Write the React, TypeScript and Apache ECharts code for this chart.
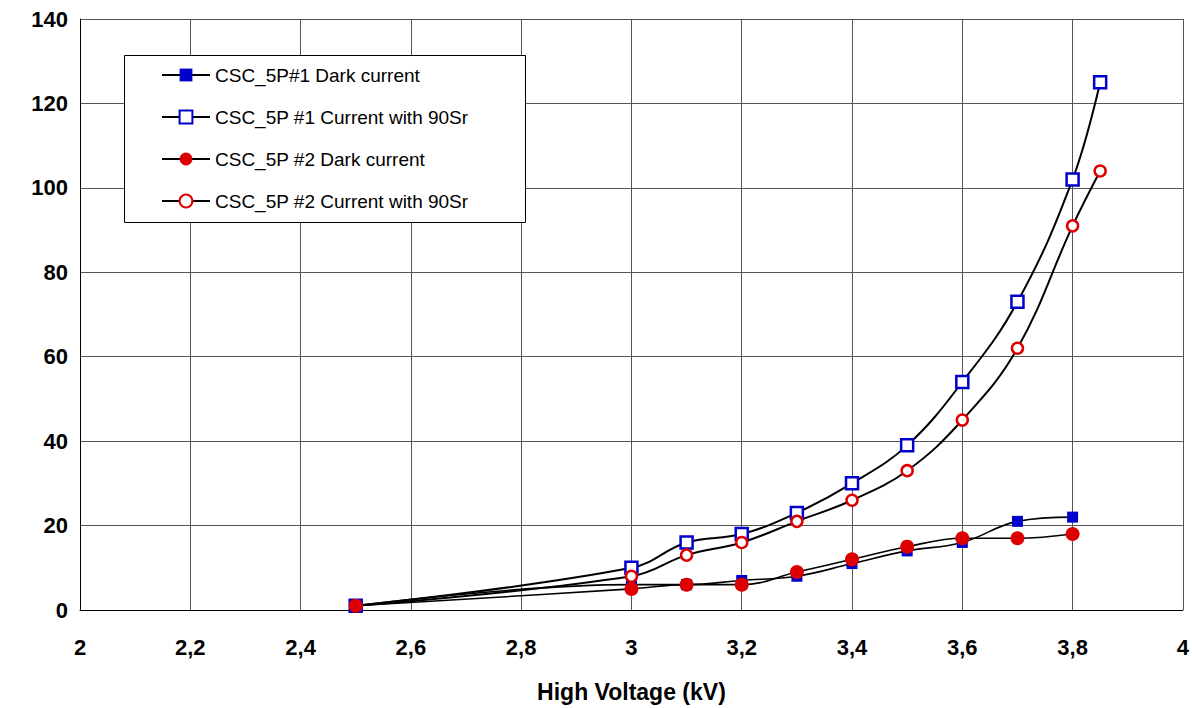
import React, { useEffect, useRef } from "react";
import * as echarts from "echarts";

// High voltage settings (kV)
const voltageDark: number[] = [2.5, 3.0, 3.1, 3.2, 3.3, 3.4, 3.5, 3.6, 3.7, 3.8];
const voltageSr: number[] = [2.5, 3.0, 3.1, 3.2, 3.3, 3.4, 3.5, 3.6, 3.7, 3.8, 3.85];

// Measured currents
const darkCurrent1: number[] = [1, 6, 6, 7, 8, 11, 14, 16, 21, 22];
const srCurrent1: number[] = [1, 10, 16, 18, 23, 30, 39, 54, 73, 102, 125];
const darkCurrent2: number[] = [1, 5, 6, 6, 9, 12, 15, 17, 17, 18];
const srCurrent2: number[] = [1, 8, 13, 16, 21, 26, 33, 45, 62, 91, 104];

const seriesNames: string[] = [
  "CSC_5P#1 Dark current",
  "CSC_5P #1 Current with 90Sr",
  "CSC_5P #2 Dark current",
  "CSC_5P #2 Current with 90Sr",
];

const BLUE = "#0000cc";
const RED = "#dd0000";
const FONT = 'Arial, "Liberation Sans", sans-serif';

const pairs = (xs: number[], ys: number[]) => ys.map((y, i) => [xs[i], y]);

export default function App() {
  const ref = useRef<HTMLDivElement>(null);

  useEffect(() => {
    if (!ref.current) return;
    const chart = echarts.init(ref.current, undefined, { renderer: "svg" });

    const axisLabel = {
      color: "#000",
      fontFamily: FONT,
      fontWeight: "bold" as const,
      fontSize: 22,
    };

    chart.setOption({
      animation: false,
      backgroundColor: "#fff",
      grid: { left: 80, right: 8, top: 19, bottom: 98, containLabel: false },
      xAxis: {
        type: "value",
        min: 2,
        max: 4,
        interval: 0.2,
        name: "High Voltage (kV)",
        nameLocation: "middle",
        nameGap: 70,
        nameTextStyle: { ...axisLabel, fontSize: 23 },
        axisLine: { show: true, onZero: false, lineStyle: { color: "#000", width: 1 } },
        axisTick: { show: false },
        splitLine: { show: true, lineStyle: { color: "#555", width: 1 } },
        axisLabel: {
          ...axisLabel,
          margin: 26,
          formatter: (v: number) => String(Math.round(v * 10) / 10).replace(".", ","),
        },
      },
      yAxis: {
        type: "value",
        min: 0,
        max: 140,
        interval: 20,
        axisLine: { show: true, lineStyle: { color: "#000", width: 1 } },
        axisTick: { show: false },
        splitLine: { show: true, lineStyle: { color: "#555", width: 1 } },
        axisLabel: { ...axisLabel, margin: 12 },
      },
      graphic: [
        {
          type: "rect",
          z: 5,
          shape: { x: 124.5, y: 55.5, width: 401, height: 167 },
          style: { fill: "#fff", stroke: "#000", lineWidth: 1 },
        },
      ],
      legend: {
        z: 6,
        orient: "vertical",
        left: 161,
        top: 65,
        padding: 0,
        itemWidth: 48,
        itemHeight: 16,
        itemGap: 22,
        textStyle: { color: "#000", fontFamily: FONT, fontSize: 19, lineHeight: 20 },
        data: seriesNames,
      },
      series: [
        {
          name: seriesNames[0],
          type: "line",
          data: pairs(voltageDark, darkCurrent1),
          smooth: 0.4,
          symbol: "rect",
          symbolSize: 11,
          lineStyle: { color: "#000", width: 1.6 },
          itemStyle: { color: BLUE, borderWidth: 0 },
        },
        {
          name: seriesNames[1],
          type: "line",
          data: pairs(voltageSr, srCurrent1),
          smooth: 0.4,
          symbol: "rect",
          symbolSize: 12,
          lineStyle: { color: "#000", width: 2 },
          itemStyle: { color: "#fff", borderColor: BLUE, borderWidth: 2.5 },
        },
        {
          name: seriesNames[3],
          type: "line",
          data: pairs(voltageSr, srCurrent2),
          smooth: 0.4,
          symbol: "circle",
          symbolSize: 11,
          lineStyle: { color: "#000", width: 2 },
          itemStyle: { color: "#fff", borderColor: RED, borderWidth: 2.5 },
        },
        {
          name: seriesNames[2],
          type: "line",
          data: pairs(voltageDark, darkCurrent2),
          smooth: 0.4,
          symbol: "circle",
          symbolSize: 14,
          lineStyle: { color: "#000", width: 1.6 },
          itemStyle: { color: RED, borderWidth: 0 },
        },
      ],
    });

    return () => chart.dispose();
  }, []);

  return (
    <div
      ref={ref}
      style={{ position: "fixed", left: 0, top: 0, width: 1192, height: 708 }}
    />
  );
}
